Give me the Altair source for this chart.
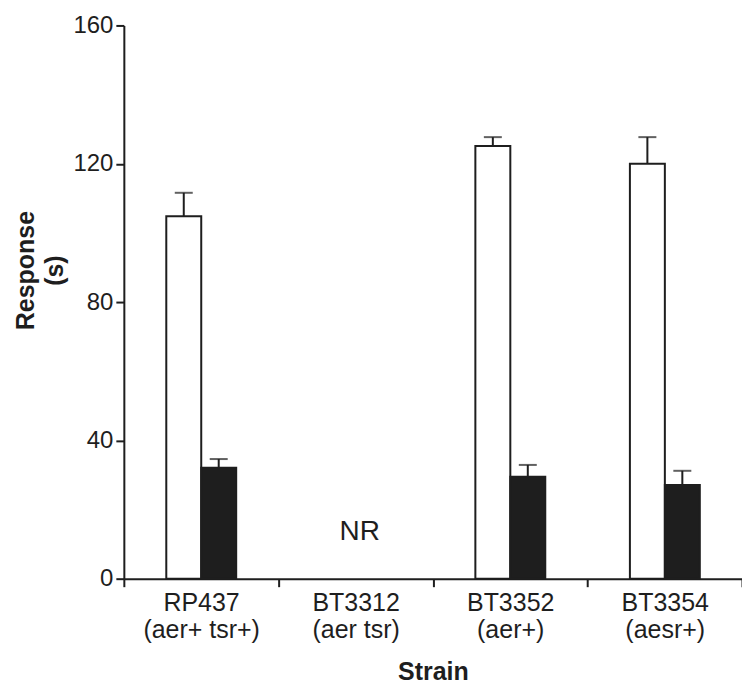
import altair as alt
import pandas as pd

strains = ["RP437|(aer+ tsr+)", "BT3312|(aer tsr)", "BT3352|(aer+)", "BT3354|(aesr+)"]
white_vals = [104.8, None, 125.1, 120.0]
white_tops = [111.6, None, 127.7, 127.7]
black_vals = [32.1, None, 29.5, 27.1]
black_tops = [34.6, None, 32.9, 31.2]
groups = ["white", "black"]
nr_strain = "BT3312|(aer tsr)"
nr_label = "NR"
nr_y = 13.6

rows = []
for s, wv, wt, bv, bt in zip(strains, white_vals, white_tops, black_vals, black_tops):
    if wv is not None:
        rows.append({"strain": s, "group": "white", "value": wv, "top": wt})
        rows.append({"strain": s, "group": "black", "value": bv, "top": bt})
df = pd.DataFrame(rows)
nr_df = pd.DataFrame({"strain": [nr_strain], "y": [nr_y], "label": [nr_label]})

FONT = "Liberation Sans"

x_enc = alt.X(
    "strain:N",
    scale=alt.Scale(domain=strains, paddingInner=0, paddingOuter=0),
    axis=alt.Axis(
        title="Strain",
        labelExpr="split(datum.label, '|')",
        labelAngle=0,
        labelAlign="center",
        labelFontSize=25,
        labelLineHeight=27,
        labelBaseline="top",
        labelPadding=4,
        tickBand="extent",
        titleFontSize=25,
        titleFontWeight="bold",
        titleBaseline="alphabetic",
        titleY=101,
    ),
)
xoff = alt.XOffset("group:N", scale=alt.Scale(domain=groups, paddingInner=0, paddingOuter=0, range=[42.5, 112.5]))
y_scale = alt.Scale(domain=[0, 160], nice=False)

bars = alt.Chart(df).mark_bar(stroke="#1e1e1e", strokeWidth=2).encode(
    x=x_enc,
    xOffset=xoff,
    y=alt.Y(
        "value:Q",
        scale=y_scale,
        axis=alt.Axis(
            values=[0, 40, 80, 120, 160],
            title=["Response", "(s)"],
            labelFontSize=24,
            labelPadding=3,
            titleFontSize=25,
            titleFontWeight="bold",
            titleAngle=270,
            titleAlign="center",
            titleBaseline="middle",
            titleLineHeight=29,
            titleX=-98,
            titleY=245,
        ),
    ),
    color=alt.Color("group:N", scale=alt.Scale(domain=groups, range=["white", "#1e1e1e"]), legend=None),
)

err = alt.Chart(df).mark_rule(color="#1e1e1e", strokeWidth=2).encode(
    x="strain:N", xOffset=xoff, y=alt.Y("value:Q", scale=y_scale), y2="top:Q"
)
caps = alt.Chart(df).mark_tick(color="#1e1e1e", thickness=2, size=18).encode(
    x="strain:N", xOffset=xoff, y=alt.Y("top:Q", scale=y_scale)
)
nr = alt.Chart(nr_df).mark_text(fontSize=28, font=FONT, color="#1e1e1e", dx=4).encode(
    x="strain:N", y=alt.Y("y:Q", scale=y_scale), text="label:N"
)

chart = (
    alt.layer(err, caps, bars, nr)
    .properties(
        width=619,
        height=554,
        autosize=alt.AutoSizeParams(type="none"),
        padding={"left": 116, "top": 17, "right": 0, "bottom": 110},
    )
    .configure_view(stroke=None)
    .configure_axis(
        grid=False,
        domainColor="#1e1e1e",
        domainWidth=2,
        tickColor="#1e1e1e",
        tickWidth=2,
        tickSize=8,
        labelColor="#1e1e1e",
        titleColor="#1e1e1e",
        labelFont=FONT,
        titleFont=FONT,
    )
)

chart.save("out.html", embed_options={"renderer": "svg", "actions": False})
